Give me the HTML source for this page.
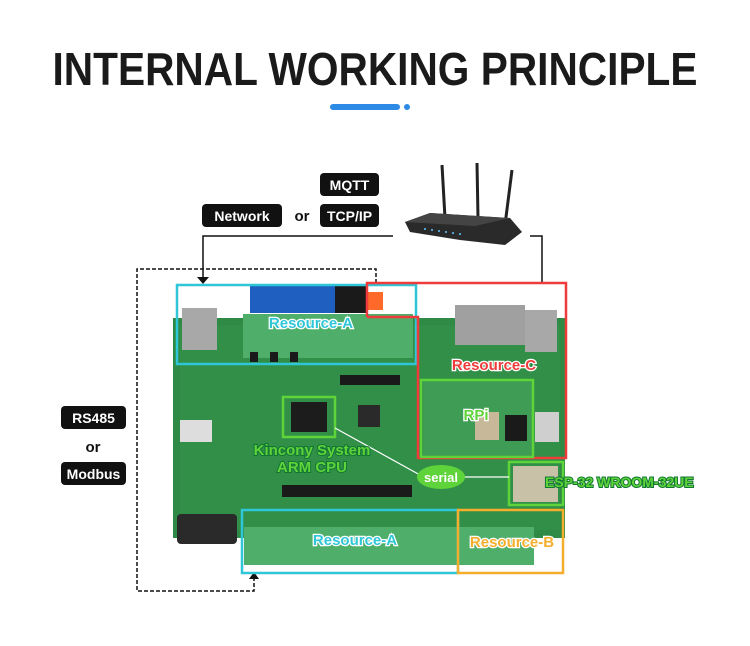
<!DOCTYPE html>
<html><head><meta charset="utf-8"><style>
html,body{margin:0;padding:0;background:#fff;}
svg{display:block;}
</style></head><body>
<svg width="750" height="646" viewBox="0 0 750 646" xmlns="http://www.w3.org/2000/svg" font-family="Liberation Sans, sans-serif">
<rect width="750" height="646" fill="#fff"/>
<text x="375" y="85" text-anchor="middle" font-size="46" font-weight="bold" fill="#1a1a1a" textLength="645" lengthAdjust="spacingAndGlyphs">INTERNAL WORKING PRINCIPLE</text>
<rect x="330" y="104" width="70" height="6" rx="3" fill="#2d8ae6"/>
<circle cx="407" cy="107" r="3" fill="#2d8ae6"/>

<!-- labels -->
<rect x="320" y="173" width="59" height="23" rx="4" fill="#111"/>
<text x="349.5" y="190" text-anchor="middle" font-size="14" font-weight="bold" fill="#fff">MQTT</text>
<rect x="320" y="204" width="59" height="23" rx="4" fill="#111"/>
<text x="349.5" y="221" text-anchor="middle" font-size="14" font-weight="bold" fill="#fff">TCP/IP</text>
<rect x="202" y="204" width="80" height="23" rx="4" fill="#111"/>
<text x="242" y="221" text-anchor="middle" font-size="14" font-weight="bold" fill="#fff">Network</text>
<text x="302" y="221" text-anchor="middle" font-size="15" font-weight="bold" fill="#111">or</text>
<rect x="61" y="406" width="65" height="23" rx="4" fill="#111"/>
<text x="93.5" y="423" text-anchor="middle" font-size="14" font-weight="bold" fill="#fff">RS485</text>
<text x="93" y="452" text-anchor="middle" font-size="15" font-weight="bold" fill="#111">or</text>
<rect x="61" y="462" width="65" height="23" rx="4" fill="#111"/>
<text x="93.5" y="479" text-anchor="middle" font-size="14" font-weight="bold" fill="#fff">Modbus</text>

<!-- router -->
<line x1="445" y1="218" x2="442" y2="165" stroke="#222" stroke-width="3"/>
<line x1="478" y1="218" x2="477" y2="163" stroke="#222" stroke-width="3"/>
<line x1="505" y1="225" x2="512" y2="170" stroke="#222" stroke-width="3"/>
<polygon points="405,222 430,213 510,218 522,232 505,245 460,240 410,232" fill="#2a2a2a"/>
<polygon points="405,222 430,213 510,218 475,226" fill="#444"/>
<g fill="#5fc6ff"><circle cx="425" cy="229" r="1"/><circle cx="432" cy="230" r="1"/><circle cx="439" cy="231" r="1"/><circle cx="446" cy="232" r="1"/><circle cx="453" cy="233" r="1"/><circle cx="460" cy="234" r="1"/></g>

<!-- connectors -->
<polyline points="393,236 203,236 203,278" fill="none" stroke="#111" stroke-width="1.5"/>
<polygon points="197,277 209,277 203,284" fill="#111"/>
<polyline points="530,236 542,236 542,283" fill="none" stroke="#111" stroke-width="1.5"/>
<polyline points="376,283 376,269 137,269 137,591 254,591 254,578" fill="none" stroke="#111" stroke-width="1.5" stroke-dasharray="4,2"/>
<polygon points="249,579 259,579 254,572" fill="#111"/>

<!-- board -->
<rect x="173" y="318" width="392" height="220" fill="#2f8a45"/>
<rect x="180" y="325" width="380" height="205" fill="#318f48"/>
<rect x="250" y="285" width="85" height="28" fill="#1f5fbf"/>
<rect x="335" y="285" width="33" height="28" fill="#1a1a1a"/>
<rect x="368" y="292" width="15" height="18" fill="#ff6a2a"/>
<rect x="243" y="314" width="170" height="44" fill="#4fae6a"/>
<rect x="182" y="308" width="35" height="42" fill="#a8a8a8"/>
<rect x="455" y="305" width="70" height="40" fill="#a0a0a0"/>
<rect x="525" y="310" width="32" height="42" fill="#a8a8a8"/>
<rect x="423" y="380" width="110" height="77" fill="#3e9c55"/>
<rect x="475" y="412" width="24" height="28" fill="#c7b89a"/>
<rect x="505" y="415" width="22" height="26" fill="#1a1a1a"/>
<rect x="535" y="412" width="24" height="30" fill="#cfcfcf"/>
<rect x="291" y="402" width="36" height="30" fill="#1c1c1c"/>
<rect x="358" y="405" width="22" height="22" fill="#2a2a2a"/>
<rect x="513" y="466" width="45" height="36" fill="#c9c0a8"/>
<rect x="177" y="514" width="60" height="30" rx="4" fill="#2a2a2a"/>
<rect x="244" y="527" width="290" height="38" fill="#4fae6a"/>
<g fill="#1a1a1a">
<rect x="250" y="352" width="8" height="10"/><rect x="270" y="352" width="8" height="10"/><rect x="290" y="352" width="8" height="10"/>
<rect x="340" y="375" width="60" height="10"/><rect x="340" y="375" width="60" height="10"/>
<rect x="282" y="485" width="130" height="12"/>
<rect x="180" y="420" width="32" height="22" fill="#ddd"/>
</g>

<!-- boxes -->
<rect x="177" y="285" width="239" height="79" fill="none" stroke="#2fc6d8" stroke-width="2.5"/>
<polyline points="367,317 367,283 566,283 566,458 418,458 418,317 367,317" fill="none" stroke="#ee3b3b" stroke-width="2.5"/>
<rect x="421" y="380" width="112" height="77" fill="none" stroke="#5fd33a" stroke-width="2.5"/>
<rect x="283" y="397" width="52" height="40" fill="none" stroke="#5fd33a" stroke-width="2.5"/>
<rect x="509" y="462" width="54" height="43" fill="none" stroke="#5fd33a" stroke-width="2.5"/>
<rect x="242" y="510" width="216" height="63" fill="none" stroke="#2fc6d8" stroke-width="2.5"/>
<rect x="458" y="510" width="105" height="63" fill="none" stroke="#f5ae2c" stroke-width="2.5"/>
<line x1="335" y1="428" x2="420" y2="475" stroke="#fff" stroke-width="1.2"/>
<line x1="440" y1="477" x2="509" y2="477" stroke="#fff" stroke-width="1.2"/>
<ellipse cx="441" cy="477" rx="24" ry="12" fill="#5fd33a"/>
<text x="441" y="482" text-anchor="middle" font-size="13" font-weight="bold" fill="#fff">serial</text>

<g font-weight="bold" stroke="#fff" stroke-width="2.5" paint-order="stroke" font-size="15">
<text x="311" y="328" text-anchor="middle" fill="#2fc6d8">Resource-A</text>
<text x="494" y="370" text-anchor="middle" fill="#ee3b3b">Resource-C</text>
<text x="476" y="420" text-anchor="middle" fill="#5fd33a">RPi</text>
<text x="312" y="455" text-anchor="middle" fill="#5fd33a" stroke="#173" stroke-width="2">Kincony System</text>
<text x="312" y="472" text-anchor="middle" fill="#5fd33a" stroke="#173" stroke-width="2">ARM CPU</text>
<text x="355" y="545" text-anchor="middle" fill="#2fc6d8">Resource-A</text>
<text x="512" y="547" text-anchor="middle" fill="#f5ae2c">Resource-B</text>
<text x="545" y="487" fill="#5fd33a" stroke="#173" stroke-width="2" font-size="14">ESP-32 WROOM-32UE</text>
</g>
</svg>
</body></html>
